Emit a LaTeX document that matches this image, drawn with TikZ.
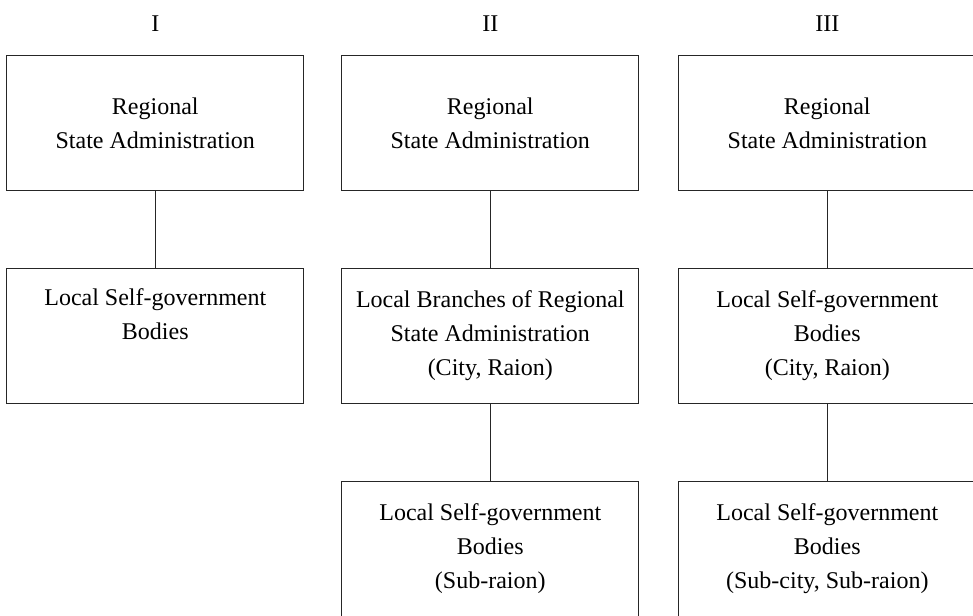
\documentclass[tikz,border=0pt]{standalone}
\usepackage{fontspec}
\setmainfont{Liberation Serif}
\usetikzlibrary{positioning}
\tikzstyle{unit} = [rectangle, draw=black!85, line width=1pt, minimum width=297pt, minimum height=135pt, inner sep=0pt, outer sep=0pt, align=center, font=\fontsize{24}{34}\selectfont]
\tikzstyle{link} = [draw=black!85, line width=1pt]
\tikzstyle{colhead} = [font=\fontsize{24}{34}\selectfont]

\begin{document}
\begin{tikzpicture}[x=1pt, y=-1pt]
    \clip (0,0) rectangle (973,615);

    % Regional level
    \node[unit] (regI) at (155.3,123) {Regional\\State Administration};
    \node[unit, right=38pt of regI] (regII) {Regional\\State Administration};
    \node[unit, right=40pt of regII] (regIII) {Regional\\State Administration};

    % Column heads
    \path (regI.north) ++(0,-32) node[colhead] (headI) {I};
    \path (regII.north) ++(0,-32) node[colhead] (headII) {II};
    \path (regIII.north) ++(0,-32) node[colhead] (headIII) {III};

    % City and raion level
    \node[unit, below=78pt of regI] (localI) {Local Self-government\\Bodies\\\strut};
    \node[unit, below=78pt of regII] (branchII) {Local Branches of Regional\\State Administration\\(City, Raion)};
    \node[unit, below=78pt of regIII] (localIII) {Local Self-government\\Bodies\\(City, Raion)};

    % Sub-city and sub-raion level
    \node[unit, below=78pt of branchII] (subII) {Local Self-government\\Bodies\\(Sub-raion)};
    \node[unit, below=78pt of localIII] (subIII) {Local Self-government\\Bodies\\(Sub-city, Sub-raion)};

    % Connections
    \draw[link] (regI) -- (localI);
    \draw[link] (regII) -- (branchII);
    \draw[link] (branchII) -- (subII);
    \draw[link] (regIII) -- (localIII);
    \draw[link] (localIII) -- (subIII);

\end{tikzpicture}
\end{document}
